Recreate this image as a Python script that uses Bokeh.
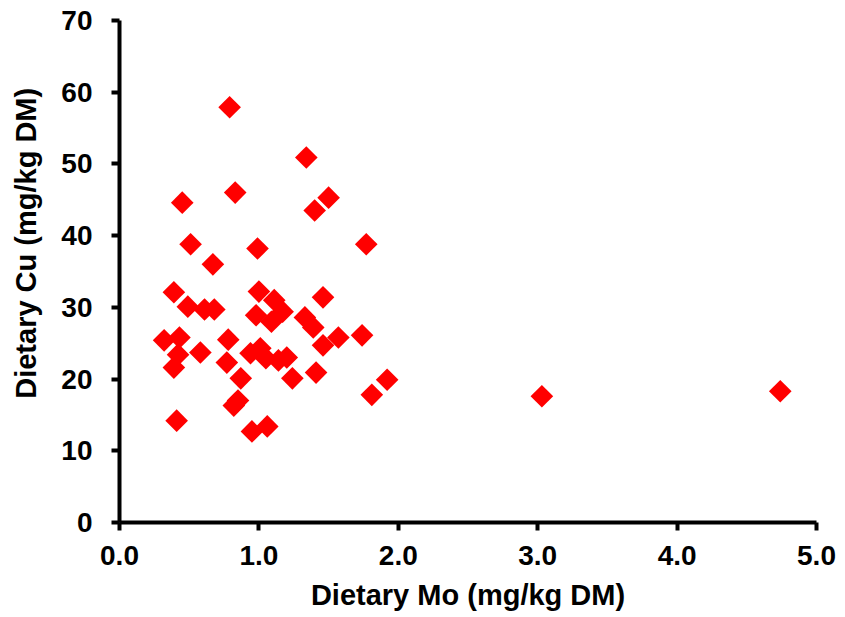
import math
from bokeh.plotting import figure
from bokeh.models import Range1d, FixedTicker, NumeralTickFormatter
from bokeh.embed import file_html
from bokeh.resources import INLINE

# Dietary Mo (mg/kg DM)
mo = [0.79, 1.34, 0.83, 1.50, 0.45, 1.40, 0.51, 0.99, 1.77, 0.67,
      0.39, 1.00, 0.49, 0.61, 0.68, 1.11, 0.98, 1.09, 1.17, 1.46,
      1.33, 1.39, 0.32, 0.43, 0.78, 1.57, 1.74, 1.46, 0.42, 0.58,
      0.94, 1.01, 1.05, 1.14, 1.20, 0.39, 0.77, 1.41, 1.24, 0.87,
      1.92, 1.81, 3.03, 4.74, 0.82, 0.85, 0.41, 0.95, 1.06]
# Dietary Cu (mg/kg DM)
cu = [57.9, 50.9, 46.0, 45.3, 44.6, 43.5, 38.8, 38.2, 38.8, 36.0,
      32.1, 32.2, 30.1, 29.7, 29.7, 31.0, 28.9, 28.0, 29.4, 31.4,
      28.6, 27.2, 25.4, 25.8, 25.5, 25.8, 26.1, 24.7, 23.4, 23.7,
      23.6, 24.3, 22.9, 22.6, 23.0, 21.6, 22.3, 20.9, 20.1, 20.1,
      19.9, 17.8, 17.6, 18.3, 16.3, 17.0, 14.2, 12.7, 13.4]

x_ticks = [0, 1, 2, 3, 4, 5]
y_ticks = [0, 10, 20, 30, 40, 50, 60, 70]

FONT = "Liberation Sans"

p = figure(frame_width=697, frame_height=502, output_backend="svg",
           toolbar_location=None,
           x_range=Range1d(0, 5), y_range=Range1d(0, 70),
           min_border_left=119, min_border_top=20, min_border_right=24,
           min_border_bottom=94)

p.scatter(mo, cu, marker="square", size=16, angle=math.pi / 4,
          fill_color="#FF0000", line_color=None)

p.outline_line_color = None
p.grid.visible = False
p.background_fill_color = "white"
p.border_fill_color = "white"

for ax in (p.xaxis[0], p.yaxis[0]):
    ax.axis_line_width = 4
    ax.axis_line_color = "black"
    ax.major_tick_line_width = 4
    ax.major_tick_line_color = "black"
    ax.major_tick_in = 0
    ax.major_tick_out = 8
    ax.minor_tick_line_color = None
    ax.major_label_text_font = FONT
    ax.major_label_text_font_style = "bold"
    ax.major_label_text_font_size = "28px"
    ax.major_label_text_color = "black"
    ax.axis_label_text_font = FONT
    ax.axis_label_text_font_style = "bold"
    ax.axis_label_text_font_size = "29px"
    ax.axis_label_text_color = "black"

p.xaxis[0].ticker = FixedTicker(ticks=x_ticks)
p.yaxis[0].ticker = FixedTicker(ticks=y_ticks)
p.xaxis[0].formatter = NumeralTickFormatter(format="0.0")
p.xaxis[0].axis_label = "Dietary Mo (mg/kg DM)"
# leading no-break spaces lift the label slightly above the frame centre
p.yaxis[0].axis_label = "\u00a0" * 7 + "Dietary Cu (mg/kg DM)"
p.xaxis[0].major_label_standoff = 15
p.yaxis[0].major_label_standoff = 19
p.xaxis[0].axis_label_standoff = 11
p.yaxis[0].axis_label_standoff = 16

open("out.html", "w").write(file_html(p, INLINE))
